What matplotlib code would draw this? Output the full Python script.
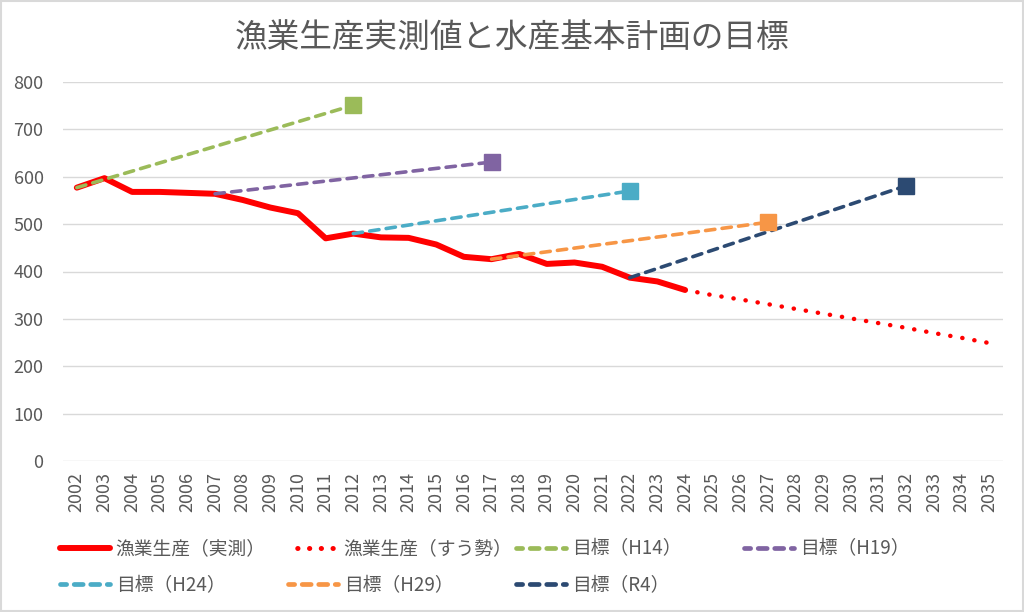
import numpy as np
import matplotlib.pyplot as plt
from matplotlib.patches import Rectangle
from matplotlib.lines import Line2D

plt.rcParams['font.family'] = ['Noto Sans CJK JP', 'DejaVu Sans']

# 実測
years = list(range(2002, 2025))
actual = [577, 597, 568, 568, 566, 564, 551, 535, 523, 470, 480, 472, 471,
          457, 431, 426, 437, 416, 419, 410, 387, 379, 361]

# すう勢
trend_years = list(range(2024, 2036))
trend = [361, 350, 341, 331, 321, 311, 301, 291, 281, 270, 260, 249]

# 目標 (start year, start value, target year, target value)
target_names = ['目標（H14）', '目標（H19）', '目標（H24）', '目標（H29）', '目標（R4）']
target_start_year = [2002, 2007, 2012, 2017, 2022]
target_start_val = [577, 564, 480, 426, 387]
target_end_year = [2012, 2017, 2022, 2027, 2032]
target_end_val = [751, 631, 570, 504, 581]
target_colors = ['#9BBB59', '#8064A2', '#4BACC6', '#F79646', '#2C4A72']

all_years = list(range(2002, 2036))

fig = plt.figure(figsize=(10.24, 6.12), dpi=100)
ax = fig.add_axes([63 / 1024, 1 - 461 / 612, 940 / 1024, 379 / 612])

ax.plot(years, actual, color='#FF0000', lw=4.3, solid_joinstyle='round',
        solid_capstyle='round', zorder=3)
ax.plot(trend_years, trend, color='#FF0000', lw=3.2,
        linestyle=(2.7, (0.05, 2.7)), dash_capstyle='round', zorder=3)

# legend proxies (Excel draws thicker, shorter samples)
handles = [Line2D([], [], color='#FF0000', lw=4.3, solid_capstyle='round'),
           Line2D([], [], color='#FF0000', lw=3.6, linestyle=(0.5, (0.05, 2.3)),
                  dash_capstyle='round')]
labels = ['漁業生産（実測）', '漁業生産（すう勢）']

for name, sy, sv, ey, ev, c in zip(target_names, target_start_year, target_start_val,
                                   target_end_year, target_end_val, target_colors):
    ax.plot([sy, ey], [sv, ev], color=c, lw=2.6, linestyle=(0, (2.6, 2.0)),
            dash_capstyle='round', zorder=4)
    ax.plot([ey], [ev], marker='s', markersize=12, color=c, zorder=5)
    handles.append(Line2D([], [], color=c, lw=3.4, linestyle=(0.6, (1.9, 1.6)),
                          dash_capstyle='round'))
    labels.append(name)

ax.set_xlim(2001.5, 2035.5)
ax.set_ylim(0, 800)
ax.set_yticks(range(0, 801, 100))
ax.set_xticks(all_years)
ax.set_xticklabels([str(y) for y in all_years], rotation=90)
ax.tick_params(axis='both', length=0, colors='#595959', labelsize=13)
ax.tick_params(axis='y', pad=14)
ax.tick_params(axis='x', pad=8)
ax.grid(axis='y', color='#D9D9D9', lw=1)
ax.set_axisbelow(True)
for s in ax.spines.values():
    s.set_visible(False)

fig.text(0.5, 1 - 38 / 612, '漁業生産実測値と水産基本計画の目標', ha='center', va='center',
         fontsize=23.5, color='#595959')

# legend laid out row by row in fixed-width columns, like Excel
columns = [[0, 4], [1, 5], [2, 6], [3]]
col_x = [52, 280, 508, 736]
for cols, x in zip(columns, col_x):
    leg = fig.legend([handles[i] for i in cols], [labels[i] for i in cols],
                     loc='upper left', bbox_to_anchor=(x / 1024, 1 - 531 / 612),
                     frameon=False, fontsize=13.5, handlelength=2.7,
                     labelspacing=0.82, handletextpad=0.3, borderaxespad=0)
    for t in leg.get_texts():
        t.set_color('#595959')

fig.add_artist(Rectangle((0.001, 0.001), 0.998, 0.997, transform=fig.transFigure,
                         fill=False, edgecolor='#D9D9D9', lw=1.5))

fig.savefig('out.png', dpi=100)
